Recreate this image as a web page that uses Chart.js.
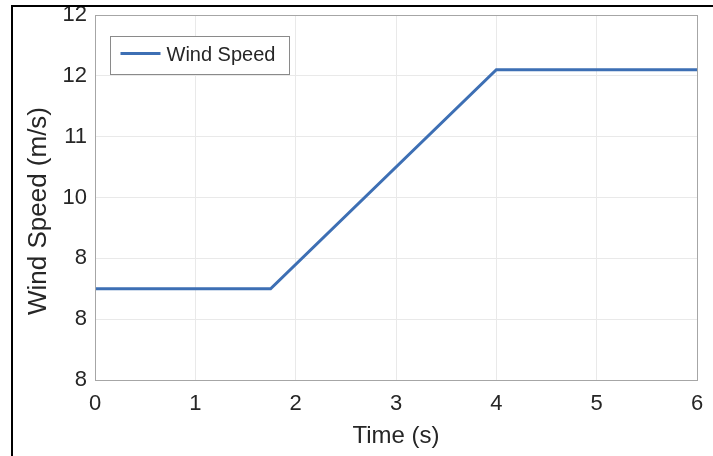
<!DOCTYPE html>
<html>
<head>
<meta charset="utf-8">
<script src="https://cdn.jsdelivr.net/npm/chart.js@4.4.1/dist/chart.umd.min.js"></script>
<style>
  html, body { margin: 0; padding: 0; background: #ffffff; }
  #wrap { width: 713px; height: 456px; }
</style>
</head>
<body>
<div id="wrap"><canvas id="c" width="713" height="456"></canvas></div>
<script>
// ---- data ----
const timeS = [0, 1.75, 4, 6];
const windSpeed = [8.5, 8.5, 12.1, 12.1];
const seriesLabel = 'Wind Speed';
const xTickLabels = ['0', '1', '2', '3', '4', '5', '6'];
const yTickLabels = ['8', '8', '8', '10', '11', '12', '12']; // as printed, bottom to top
const xTitle = 'Time (s)';
const yTitle = 'Wind Speed (m/s)';

const FONT = '"Liberation Sans", Arial, Helvetica, sans-serif';
const TXT = '#262626';
const LINE = '#3d6fb4';

const points = timeS.map((t, i) => ({ x: t, y: windSpeed[i] }));

const framePlugin = {
  id: 'frame',
  beforeDraw(chart) {
    const ctx = chart.ctx;
    ctx.save();
    ctx.fillStyle = '#ffffff';
    ctx.fillRect(0, 0, chart.width, chart.height);
    ctx.restore();
  },
  afterDraw(chart) {
    const ctx = chart.ctx;
    const a = chart.chartArea;
    ctx.save();
    // plot box
    ctx.strokeStyle = '#a6a6a6';
    ctx.lineWidth = 1;
    ctx.strokeRect(Math.round(a.left) + 0.5, Math.round(a.top) + 0.5,
                   Math.round(a.right - a.left), Math.round(a.bottom - a.top));
    // outer black frame (top and left)
    ctx.fillStyle = '#000000';
    ctx.fillRect(11, 5, chart.width - 11, 2);
    ctx.fillRect(11, 5, 2, chart.height - 5);

    // y axis title
    ctx.fillStyle = TXT;
    ctx.font = '26px ' + FONT;
    ctx.textAlign = 'center';
    ctx.textBaseline = 'middle';
    ctx.translate(39, 211);
    ctx.rotate(-Math.PI / 2);
    ctx.fillText(yTitle, 0, 0);
    ctx.restore();

    // legend box
    const ds = chart.data.datasets[0];
    const lx = a.left + 15.5, ly = a.top + 21.5, lw = 179, lh = 38;
    ctx.save();
    ctx.fillStyle = '#ffffff';
    ctx.fillRect(lx, ly, lw, lh);
    ctx.strokeStyle = '#8a8a8a';
    ctx.lineWidth = 1;
    ctx.strokeRect(lx, ly, lw, lh);
    ctx.strokeStyle = ds.borderColor;
    ctx.lineWidth = 3;
    ctx.beginPath();
    ctx.moveTo(lx + 10, ly + 17);
    ctx.lineTo(lx + 50, ly + 17);
    ctx.stroke();
    ctx.fillStyle = TXT;
    ctx.font = '20px ' + FONT;
    ctx.textAlign = 'left';
    ctx.textBaseline = 'middle';
    ctx.fillText(ds.label, lx + 56, ly + 19);
    ctx.restore();
  }
};

new Chart(document.getElementById('c'), {
  type: 'line',
  data: {
    datasets: [{
      label: seriesLabel,
      data: points,
      borderColor: LINE,
      backgroundColor: LINE,
      borderWidth: 3,
      pointRadius: 0,
      tension: 0,
      fill: false
    }]
  },
  options: {
    responsive: false,
    animation: false,
    devicePixelRatio: 1,
    layout: { padding: { left: 0, top: 15, right: 16, bottom: 0 } },
    plugins: {
      legend: { display: false },
      tooltip: { enabled: false }
    },
    scales: {
      x: {
        type: 'linear',
        min: 0,
        max: 6,
        afterFit(scale) {
          scale.height = 76;
          scale.paddingLeft = 0; scale.paddingRight = 0;
        },
        afterBuildTicks(scale) {
          scale.ticks = xTickLabels.map((_, i) => ({ value: i }));
        },
        ticks: {
          callback: (v, i) => xTickLabels[i],
          color: TXT,
          font: { family: FONT, size: 22 },
          padding: 11,
          maxRotation: 0,
          autoSkip: false
        },
        grid: { color: '#e9e9e9', lineWidth: 1, drawTicks: false },
        border: { display: false },
        title: {
          display: true,
          text: xTitle,
          color: TXT,
          font: { family: FONT, size: 24 },
          padding: { top: 0, bottom: 5 }
        }
      },
      y: {
        type: 'linear',
        min: 7,
        max: 13,
        afterFit(scale) {
          scale.width = 95;
          scale.paddingTop = 0; scale.paddingBottom = 0;
        },
        afterBuildTicks(scale) {
          scale.ticks = yTickLabels.map((_, i) => ({ value: 7 + i }));
        },
        ticks: {
          callback: (v, i) => yTickLabels[i],
          color: TXT,
          font: { family: FONT, size: 22 },
          padding: 8,
          autoSkip: false
        },
        grid: { color: '#e9e9e9', lineWidth: 1, drawTicks: false },
        border: { display: false },
        title: { display: false }
      }
    }
  },
  plugins: [framePlugin]
});
</script>
</body>
</html>
